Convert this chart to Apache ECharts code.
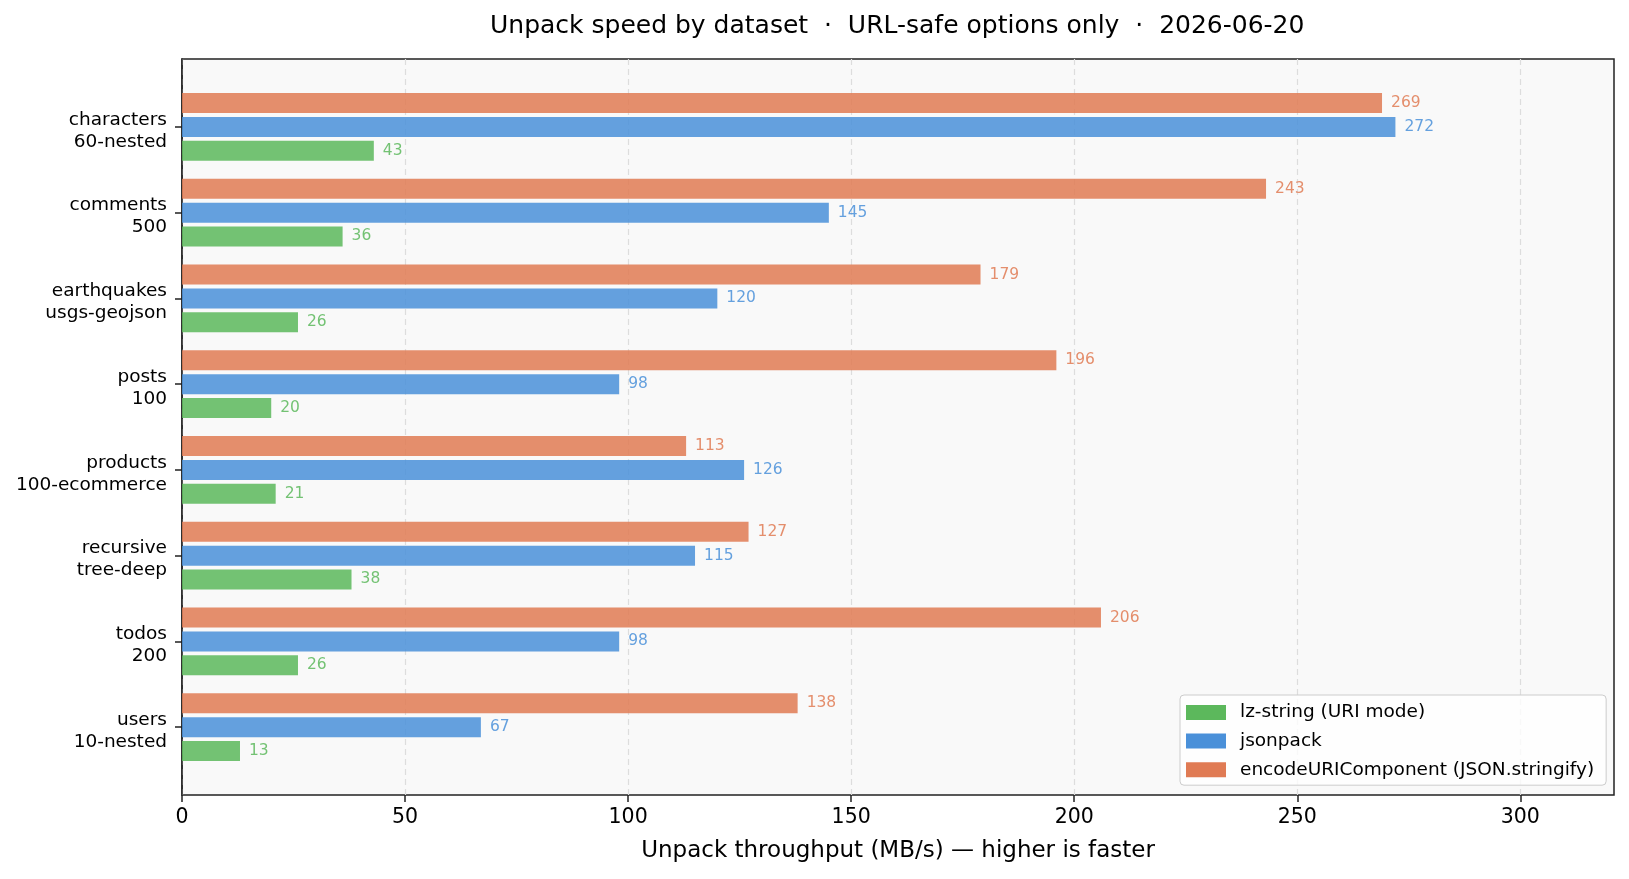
<!DOCTYPE html>
<html lang="en">
<head>
    <meta charset="UTF-8">
    <title>Unpack speed by dataset</title>
    <script src="https://cdn.jsdelivr.net/npm/echarts@6/dist/echarts.min.js"></script>
    <style>
        html, body { margin: 0; padding: 0; background: #fff; }
        #container { width: 1629px; height: 879px; }
    </style>
</head>
<body>
    <div id="container"></div>
    <script>
        var datasets = ['characters\n60-nested', 'comments\n500', 'earthquakes\nusgs-geojson', 'posts\n100',
            'products\n100-ecommerce', 'recursive\ntree-deep', 'todos\n200', 'users\n10-nested'];
        var lzString = [43, 36, 26, 20, 21, 38, 26, 13];
        var jsonpack = [272, 145, 120, 98, 126, 115, 98, 67];
        var encodeUri = [269, 243, 179, 196, 113, 127, 206, 138];
        var xTicks = [0, 50, 100, 150, 200, 250, 300];

        var font = 'DejaVu Sans';
        var colors = { lz: '#5cb85c', jp: '#4a90d9', enc: '#e07b54' };

        var myChart = echarts.init(document.getElementById('container'));

        function barSeries(name, data, color) {
            return {
                name: name,
                type: 'bar',
                xAxisIndex: 1,
                yAxisIndex: 1,
                data: data,
                barWidth: 20,
                barGap: '19%',
                itemStyle: { color: color, opacity: 0.85 },
                label: {
                    show: true,
                    position: 'right',
                    distance: 9,
                    color: color,
                    fontFamily: font,
                    fontSize: 15.5
                }
            };
        }

        var option = {
            animation: false,
            title: {
                text: 'Unpack speed by dataset  ·  URL-safe options only  ·  2026-06-20',
                left: 490,
                top: 14,
                padding: 0,
                textStyle: { fontFamily: font, fontSize: 25, fontWeight: 'normal', color: '#000' }
            },
            legend: {
                orient: 'vertical',
                left: 1180,
                top: 695,
                padding: [8, 12, 6, 6],
                itemWidth: 40,
                itemHeight: 15,
                itemGap: 9.6,
                backgroundColor: 'rgba(255,255,255,0.8)',
                borderColor: '#cccccc',
                borderWidth: 1,
                borderRadius: 4,
                icon: 'rect',
                data: ['lz-string (URI mode)', 'jsonpack', 'encodeURIComponent (JSON.stringify)'],
                itemStyle: { opacity: 1 },
                textStyle: { fontFamily: font, fontSize: 18.5, color: '#000', padding: [0, 0, 0, 9] }
            },
            grid: [
                // frame + x axis
                { left: 182, right: 15, top: 59, bottom: 84, show: true, backgroundColor: '#f9f9f9',
                  borderColor: '#222', borderWidth: 1.5, containLabel: false },
                // bars
                { left: 182, right: 15, top: 84, bottom: 109, containLabel: false }
            ],
            xAxis: [
                {
                    gridIndex: 0, type: 'value', min: 0, max: 321, interval: 50,
                    name: 'Unpack throughput (MB/s) — higher is faster',
                    nameLocation: 'middle', nameGap: 45,
                    nameTextStyle: { fontFamily: font, fontSize: 23, color: '#000' },
                    axisLine: { show: false },
                    axisTick: { show: true, length: 7, lineStyle: { color: '#222', width: 1.5 },
                        customValues: xTicks },
                    axisLabel: { fontFamily: font, fontSize: 20.5, color: '#000', margin: 12,
                        customValues: xTicks },
                    splitLine: { show: true, lineStyle: { color: '#dddddd', type: [6, 4], width: 1.2 } }
                },
                { gridIndex: 1, type: 'value', min: 0, max: 321, show: false }
            ],
            yAxis: [
                {
                    gridIndex: 0, type: 'value', min: 0, max: 1,
                    axisLine: { show: true, lineStyle: { color: '#222', width: 1.5 } },
                    axisTick: { show: false },
                    axisLabel: { show: false },
                    splitLine: { show: false }
                },
                {
                    gridIndex: 1, type: 'category', inverse: true, data: datasets,
                    axisLine: { show: false },
                    axisTick: { show: true, alignWithLabel: true, length: 7,
                        lineStyle: { color: '#222', width: 1.5 } },
                    axisLabel: {
                        margin: 15, align: 'right',
                        formatter: function (v) {
                            // small spacer line on top nudges the two-line label down a little
                            return '{s| }\n' + v.split('\n').map(function (s) { return '{l|' + s + '}'; }).join('\n');
                        },
                        rich: {
                            s: { fontSize: 4, lineHeight: 8 },
                            l: { fontFamily: font, fontSize: 18.5, color: '#000', lineHeight: 22 }
                        }
                    },
                    splitLine: { show: false }
                }
            ],
            series: [
                barSeries('encodeURIComponent (JSON.stringify)', encodeUri, colors.enc),
                barSeries('jsonpack', jsonpack, colors.jp),
                barSeries('lz-string (URI mode)', lzString, colors.lz)
            ]
        };

        myChart.setOption(option);
    </script>
</body>
</html>
